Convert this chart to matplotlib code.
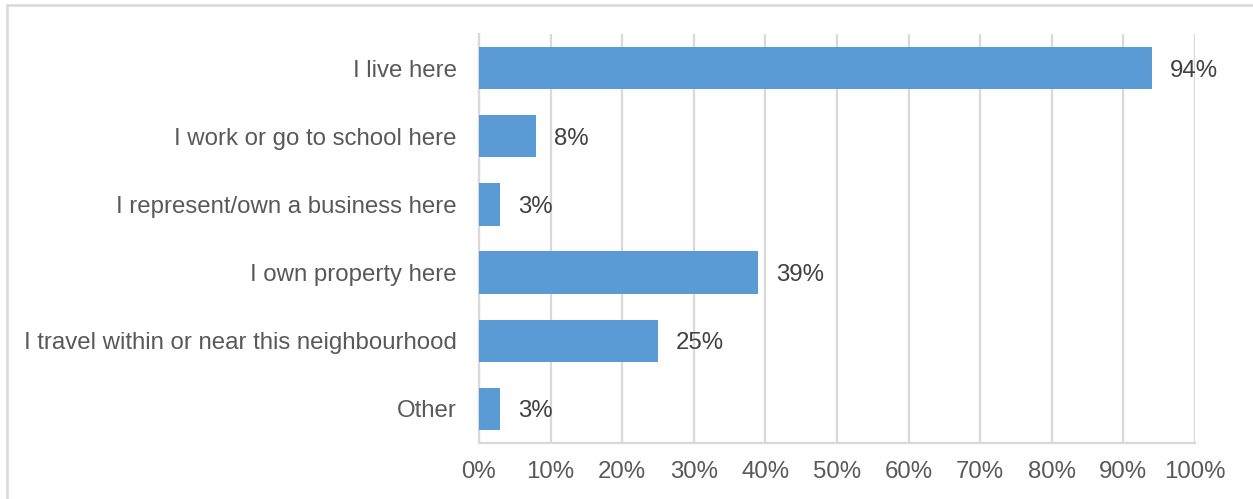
import matplotlib.pyplot as plt
from matplotlib.patches import Rectangle

categories = [
    "I live here",
    "I work or go to school here",
    "I represent/own a business here",
    "I own property here",
    "I travel within or near this neighbourhood",
    "Other",
]
shares = [94, 8, 3, 39, 25, 3]
ticks = list(range(0, 101, 10))

plt.rcParams["font.family"] = ["Liberation Sans", "DejaVu Sans"]
text_color = "#595959"
bar_color = "#5B9BD5"
grid_color = "#D9D9D9"
fs = 17.3

fig = plt.figure(figsize=(12.53, 4.99), dpi=100)
ax = fig.add_axes([479 / 1253, 1 - 443 / 499, (1195 - 479) / 1253, (443 - 34) / 499])

ypos = list(range(len(categories)))
bars = ax.barh(ypos, shares, height=0.62, color=bar_color, zorder=3)
for rect, v in zip(bars, shares):
    ax.text(rect.get_width() + 2.5, rect.get_y() + rect.get_height() / 2, f"{v}%",
            va="center_baseline", ha="left", fontsize=fs, color="#404040")

ax.set_xlim(0, 100)
ax.set_ylim(len(categories) - 0.5, -0.5)
ax.set_xticks(ticks)
ax.set_xticklabels([f"{t}%" for t in ticks], fontsize=fs, color=text_color)
ax.set_yticks(ypos)
ax.set_yticklabels(categories, fontsize=fs, color=text_color)
ax.tick_params(axis="both", length=0)
ax.tick_params(axis="x", pad=13)
ax.tick_params(axis="y", pad=16)

ax.grid(axis="x", color=grid_color, linewidth=1.6, zorder=0)
for side in ["top", "right"]:
    ax.spines[side].set_visible(False)
ax.spines["left"].set_color(grid_color)
ax.spines["left"].set_linewidth(1.6)
ax.spines["bottom"].set_color(grid_color)
ax.spines["bottom"].set_linewidth(1.6)

# outer frame, only top and left edges fall inside the canvas
fig.patches.append(Rectangle((6.5 / 1253, -0.1), 1.2, 1.1 - 5 / 499, transform=fig.transFigure,
                             fill=False, edgecolor="#D9D9D9", linewidth=1.8))

fig.savefig("out.png", dpi=100, facecolor="white")
